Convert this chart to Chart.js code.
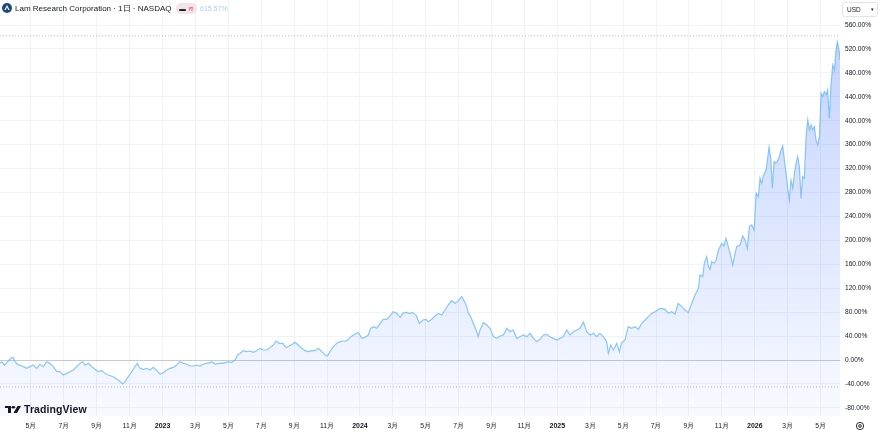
<!DOCTYPE html>
<html><head><meta charset="utf-8">
<script src="https://cdn.jsdelivr.net/npm/chart.js@4.4.1/dist/chart.umd.min.js"></script>
<style>
html,body{margin:0;padding:0;background:#fff;}
#wrap{position:relative;width:880px;height:433px;overflow:hidden;font-family:"Liberation Sans",Arial,sans-serif;color:#131722;}
#c{position:absolute;left:0;top:0;}
.ov{position:absolute;white-space:nowrap;}
#title{left:15px;top:3px;font-size:8px;line-height:12px;}
#badge{left:176px;top:3px;width:21px;height:11px;border-radius:5px;background:#f2e4e8;font-size:6.5px;line-height:11px;text-align:center;}
#pct{left:200px;top:3px;font-size:7px;line-height:12px;color:#a9cdf0;}
#usd{left:842px;top:2px;width:34px;height:13px;border:1px solid #e0e3eb;border-radius:3px;font-size:6.5px;line-height:13px;background:#fff;}
#tv{left:5px;top:403px;font-size:10.5px;line-height:13px;font-weight:700;letter-spacing:0.1px;}
</style></head><body>
<div id="wrap">
<canvas id="c" width="880" height="433"></canvas>
<svg class="ov" style="left:2px;top:3px" width="10" height="10" viewBox="0 0 11 11"><circle cx="5.5" cy="5.5" r="5.5" fill="#1d4a7a"/><path d="M5.5 2.3 L8.4 7.8 L2.6 7.8 Z" fill="#fff"/><path d="M5.5 4.6 L6.9 7.8 L4.1 7.8 Z" fill="#1d4a7a"/></svg>
<div class="ov" id="title">Lam Research Corporation · 1日 · NASDAQ</div>
<div class="ov" id="badge"><span style="color:#222;font-weight:700">▬</span> <span style="color:#e0566f">≋</span></div>
<div class="ov" id="pct">615.57%</div>
<div class="ov" id="usd"><span style="position:absolute;left:4px">USD</span><span style="position:absolute;right:3px;font-size:5px">▾</span></div>
<div class="ov" id="tv"><svg width="16" height="7" viewBox="0 0 16 10" preserveAspectRatio="none" style="vertical-align:0px;margin-right:3px"><path d="M0 0 H6 V10 H3 V3 H0 Z" fill="#131722"/><circle cx="8.3" cy="1.8" r="1.8" fill="#131722"/><path d="M12.5 0 H16 L12 10 H8.5 Z" fill="#131722"/></svg>TradingView</div>
<svg class="ov" style="left:855px;top:421px" width="10" height="10" viewBox="0 0 11 11"><circle cx="5.5" cy="5.5" r="4" fill="none" stroke="#131722" stroke-width="1"/><circle cx="5.5" cy="5.5" r="1.5" fill="none" stroke="#131722" stroke-width="1"/></svg>
</div>
<script>
// time in months since Jan 2022 (0 = 2022-01)
const months = [2.12,2.24,2.39,2.61,2.83,2.93,3.03,3.23,3.34,3.54,3.74,3.94,4.14,4.35,4.55,4.75,4.96,5.16,5.36,5.57,5.77,5.97,6.17,6.38,6.58,6.78,6.98,7.15,7.29,7.49,7.69,7.90,8.10,8.30,8.50,8.70,9.01,9.31,9.58,9.72,9.92,10.13,10.33,10.47,10.63,10.83,11.04,11.24,11.44,11.65,11.85,12.05,12.25,12.45,12.66,12.86,13.06,13.26,13.47,13.67,13.87,14.08,14.28,14.48,14.68,14.89,14.99,15.19,15.39,15.60,15.80,16.00,16.20,16.41,16.55,16.71,
16.91,17.12,17.32,17.52,17.72,17.93,18.13,18.33,18.53,18.73,18.90,19.10,19.31,19.51,19.71,19.91,20.05,20.25,20.46,20.66,20.86,21.07,21.27,21.47,21.68,21.88,22.02,22.18,22.38,22.59,22.79,22.99,23.20,23.40,23.60,23.80,23.90,24.11,24.31,24.51,24.65,24.86,25.02,25.22,25.42,25.63,25.83,26.03,26.24,26.44,26.60,26.80,27.00,27.21,27.41,27.61,27.82,28.02,28.16,28.36,28.56,28.76,28.97,29.17,29.37,29.58,29.78,29.98,30.19,30.39,30.49,30.59,30.73,30.89,31.10,
31.18,31.30,31.50,31.71,31.91,32.11,32.31,32.52,32.72,32.92,33.12,33.32,33.53,33.73,33.93,34.14,34.34,34.54,34.75,34.95,35.15,35.35,35.55,35.76,35.96,36.16,36.36,36.57,36.77,36.97,37.18,37.38,37.58,37.79,37.99,38.19,38.39,38.59,38.79,39.00,39.10,39.24,39.40,39.61,39.77,39.91,40.11,40.31,40.52,40.72,40.92,41.13,41.33,41.53,41.74,41.94,42.14,42.34,42.54,42.75,42.95,43.15,43.35,43.56,43.76,43.96,44.17,44.37,44.57,
44.67,44.84,44.93,45.08,45.18,45.28,45.38,45.52,45.65,45.79,45.89,45.99,46.13,46.25,46.39,46.50,46.66,46.80,46.90,47.10,47.27,47.41,47.55,47.67,47.81,47.96,48.08,48.22,48.32,48.42,48.52,48.69,48.87,
48.97,49.07,49.17,49.27,49.37,49.49,49.60,49.70,49.80,49.90,50.00,50.10,50.20,50.31,50.41,50.51,50.61,50.71,50.81,50.91,51.01,51.12,51.22,51.32,51.42,51.52,51.62,51.72,51.83,51.93,52.03,52.13,52.23,52.33,52.43,52.53,52.64,52.74,52.84,52.94,53.02,53.12,53.18];
// percentage change
const changePct = [-5.6,-3,-9,-2,3.9,3.9,-2.8,-8.4,-8.4,-11.1,-13.9,-11.1,-8.4,-13.9,-7.2,-11.1,-2.8,-5.6,-11.1,-19.5,-19.5,-25.1,-22.3,-19.5,-16.7,-11.1,-5.6,-2.8,-8.4,-5.6,-11.1,-15.6,-19.5,-17.8,-22.3,-25.1,-27.9,-33.4,-40.1,-36.2,-27.9,-19.5,-11.1,-5.6,-13.9,-15.6,-13.9,-16.7,-12.3,-17.8,-23.4,-21.2,-16.7,-13.9,-12.3,-8.4,-2.8,-5.6,-6.7,-10,-10,-8.4,-10,-6.7,-5.6,-4.5,-2.8,-6.7,-5.6,-5.6,-4.5,-3.3,-3.9,0,8.4,11,
15.6,13.9,15.0,12.8,15.6,19.5,16.7,16.7,20.6,25.1,31.8,27.9,27.9,20.6,24.0,26.8,29.5,25.1,19.5,15.6,13.9,15.6,15.6,19.5,13.9,8.4,6.7,13.9,22.3,27.9,30.7,31.8,31.8,37.9,41.8,44.6,46.3,36.2,37.9,41.8,53.0,55.7,53.0,61.3,68.0,68.0,73.6,80.8,78.0,71.3,78.0,79.7,78.0,79.2,75.2,61.3,66.9,68.0,64.1,68.0,73.6,78.0,75.2,83.6,92.0,99.2,94.8,99.2,105.9,95.9,89.2,78.0,72.5,61.3,47.4,
39.0,50.2,62.4,58.5,52.9,39.0,36.2,40.1,41.8,52.9,47.4,50.2,36.2,39.0,41.8,39.0,44.6,36.2,30.7,34.6,41.8,42.9,39.0,36.2,33.4,36.2,39.0,50.2,41.8,47.4,50.2,52.9,63.5,47.4,41.8,44.6,39.0,44.6,39.0,30.7,11.1,25.1,16.7,27.9,13.9,29.0,33.4,55.7,52.9,55.7,51.3,61.3,66.9,72.5,78.0,80.8,84.7,86.4,84.7,78.0,80.8,76.9,94.8,89.2,83.6,79.2,94.8,108.7,119.8,
142.1,139.4,161.7,172.8,156.1,151.6,164.4,161.7,167.2,183.9,189.5,195.1,190.6,203.5,189.5,178.4,158.9,178.4,189.5,192.3,207.4,200.7,186.7,223.0,225.8,217.4,279,273,304,295,308,318,356,
337.2,287.1,331.7,328.9,331.7,340.0,351.2,357.9,334.4,312.2,287.1,267.6,301.0,287.1,312.2,328.9,340.0,323.3,270.3,306.6,303.8,373.5,401.3,384.6,393.0,384.6,390.2,367.9,359.5,373.5,445.9,440.3,448.7,443.1,451.5,404.1,462.6,493.3,484.9,518.4,532.3,518.4,501.7];
const rangeLines = [542, -45];
const xTickMonths = [4,6,8,10,12,14,16,18,20,22,24,26,28,30,32,34,36,38,40,42,44,46,48,50,52];
const xTickLabels = ['5月','7月','9月','11月','2023','3月','5月','7月','9月','11月','2024','3月','5月','7月','9月','11月','2025','3月','5月','7月','9月','11月','2026','3月','5月'];
const yTicks = [-80,-40,0,40,80,120,160,200,240,280,320,360,400,440,480,520,560];
const X_MIN = 2.12, X_MAX = 53.18, Y_MIN = -93.6, Y_MAX = 601.8;

const FONT = '"Liberation Sans", Arial, sans-serif';
const pts = months.map((m,i)=>({x:m,y:changePct[i]}));
const rl = v => [{x:X_MIN,y:v},{x:X_MAX,y:v}];
const noPad = s => { s.paddingTop=0; s.paddingBottom=0; s.paddingLeft=0; s.paddingRight=0; };

new Chart(document.getElementById('c'), {
  type:'line',
  data:{datasets:[
    {data:pts, borderColor:'rgba(100,181,246,0.75)', borderWidth:1.2, pointRadius:0, tension:0, fill:'start',
     backgroundColor:(ctx)=>{const ch=ctx.chart, a=ch.chartArea; if(!a) return 'rgba(41,98,255,0.1)';
       const g=ch.ctx.createLinearGradient(0,a.top,0,a.bottom); g.addColorStop(0,'rgba(41,98,255,0.30)'); g.addColorStop(1,'rgba(41,98,255,0.03)'); return g;}},
    {data:rl(rangeLines[0]), borderColor:'#b8bbc3', borderWidth:1, borderDash:[1,2], pointRadius:0, fill:false},
    {data:rl(rangeLines[1]), borderColor:'#b8bbc3', borderWidth:1, borderDash:[1,2], pointRadius:0, fill:false}
  ]},
  options:{
    responsive:false, animation:false, devicePixelRatio:1,
    layout:{padding:0},
    plugins:{legend:{display:false}, tooltip:{enabled:false}},
    scales:{
      x:{type:'linear', min:X_MIN, max:X_MAX,
        afterBuildTicks:s=>{s.ticks = xTickMonths.map(v=>({value:v}));},
        afterFit:s=>{s.height=17; noPad(s);},
        grid:{color:'#f0f3fa', drawTicks:false}, border:{display:false},
        ticks:{autoSkip:false, maxRotation:0, padding:6, color:'#131722',
          font:c=>{const i=xTickMonths.indexOf(c.tick?c.tick.value:-1); const yr = i>=0 && /^\d{4}$/.test(xTickLabels[i]); return {family:FONT,size:yr?7:6.8,weight:yr?'bold':'normal'};},
          callback:v=>{const i=xTickMonths.indexOf(v); return i>=0?xTickLabels[i]:'';}}
      },
      y:{position:'right', min:Y_MIN, max:Y_MAX,
        afterBuildTicks:s=>{s.ticks = yTicks.map(v=>({value:v}));},
        afterFit:s=>{s.width=40; noPad(s);},
        grid:{color:c=>(c.tick && c.tick.value===0)?'#c7cad1':'#f0f3fa', drawTicks:false}, border:{display:false},
        ticks:{padding:5, color:'#131722', font:{family:FONT,size:6.6}, callback:v=>v.toFixed(2)+'%'}
      }
    }
  }
});
</script>
</body></html>
